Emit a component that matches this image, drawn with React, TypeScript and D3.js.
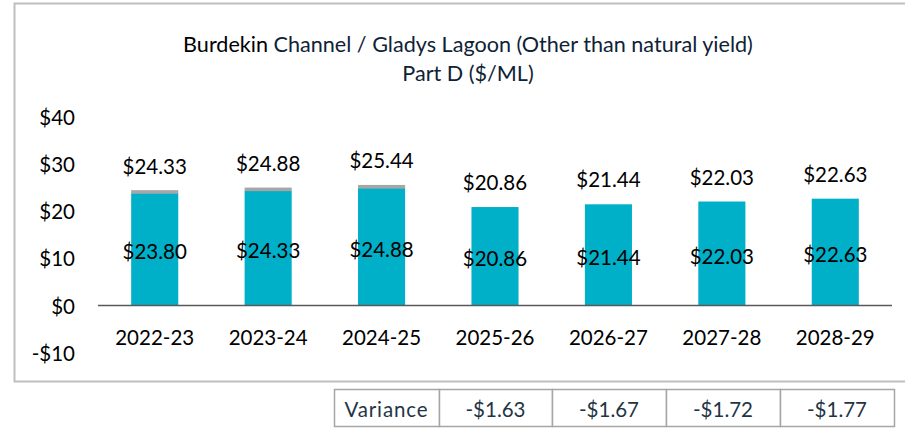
import React from 'react';
import * as d3 from 'd3';

const categories = ['2022-23', '2023-24', '2024-25', '2025-26', '2026-27', '2027-28', '2028-29'];
const baseValues = [23.8, 24.33, 24.88, 20.86, 21.44, 22.03, 22.63];
const extraValues = [0.53, 0.55, 0.56, 0, 0, 0, 0];
const yTicks = [-10, 0, 10, 20, 30, 40];
const varianceHeader = 'Variance';
const varianceValues = [-1.63, -1.67, -1.72, -1.77];

const W = 905;
const H = 428;
const FONT = 'Lato, "Noto Sans", sans-serif';
const TEAL = '#00AFC8';
const GREY = '#A6A6A6';

const fmt = (v: number) => (v < 0 ? '-$' : '$') + Math.abs(v).toFixed(2);

export default function App() {
  const x = d3
    .scaleBand<string>()
    .domain(categories)
    .range([98, 892])
    .paddingInner(0.585)
    .paddingOuter(0.2925);
  const y = d3.scaleLinear().domain([-10, 40]).range([352.7, 116.7]);

  const tableEdges = [334, 439, 552, 666, 780, 894];
  const tableCells = [varianceHeader, ...varianceValues.map(fmt)];

  return (
    <svg
      width={W}
      height={H}
      style={{ position: 'absolute', left: 0, top: 0, background: '#fff' }}
      fontFamily={FONT}
    >
      {/* frame */}
      <rect x={14.5} y={3.5} width={900} height={378} fill="#fff" stroke="#BFBFBF" strokeWidth={2} />

      {/* title */}
      <text x={468} y={44} textAnchor="middle" dominantBaseline="central" fontSize={21.6} fill="#0E2236">
        <tspan fill="#000">Burdekin</tspan> Channel / Gladys Lagoon (Other than natural yield)
      </text>
      <text x={468} y={73} textAnchor="middle" dominantBaseline="central" fontSize={21.6} fill="#0E2236">
        Part D ($/ML)
      </text>

      {/* y ticks */}
      {yTicks.map((t) => (
        <text
          key={t}
          x={75}
          y={y(t)}
          textAnchor="end"
          dominantBaseline="central"
          fontSize={20.5}
          fill="#000"
        >
          {(t < 0 ? '-$' : '$') + Math.abs(t)}
        </text>
      ))}

      {/* bars */}
      {categories.map((c, i) => {
        const bx = x(c)!;
        const bw = x.bandwidth();
        const base = baseValues[i];
        const total = base + extraValues[i];
        return (
          <g key={c}>
            <rect x={bx} y={y(base)} width={bw} height={y(0) - y(base)} fill={TEAL} />
            {extraValues[i] > 0 && (
              <rect
                x={bx}
                y={y(total) - 0.5}
                width={bw}
                height={y(base) - y(total) + 1}
                fill={GREY}
              />
            )}
            <text
              x={bx + bw / 2}
              y={y(total) - 25}
              textAnchor="middle"
              dominantBaseline="central"
              fontSize={20.5}
              fill="#000"
            >
              {fmt(total)}
            </text>
            <text
              x={bx + bw / 2}
              y={(y(0) + y(base)) / 2 + 2}
              textAnchor="middle"
              dominantBaseline="central"
              fontSize={20.5}
              fill="#000"
            >
              {fmt(base)}
            </text>
            <text
              x={bx + bw / 2}
              y={337}
              textAnchor="middle"
              dominantBaseline="central"
              fontSize={20.5}
              fill="#000"
            >
              {c}
            </text>
          </g>
        );
      })}

      {/* zero axis */}
      <line x1={98} x2={892} y1={y(0)} y2={y(0)} stroke="#595959" strokeWidth={1.5} />

      {/* variance table */}
      {tableCells.map((t, i) => (
        <g key={i}>
          <rect
            x={tableEdges[i] + 0.5}
            y={389.5}
            width={tableEdges[i + 1] - tableEdges[i]}
            height={37}
            fill="#fff"
            stroke="#A6A6A6"
            strokeWidth={1.5}
          />
          <text
            x={(tableEdges[i] + tableEdges[i + 1]) / 2}
            y={409}
            textAnchor="middle"
            dominantBaseline="central"
            fontSize={20.5}
            letterSpacing={i === 0 ? 0.9 : 0}
            fill="#1F3546"
          >
            {t}
          </text>
        </g>
      ))}
    </svg>
  );
}
